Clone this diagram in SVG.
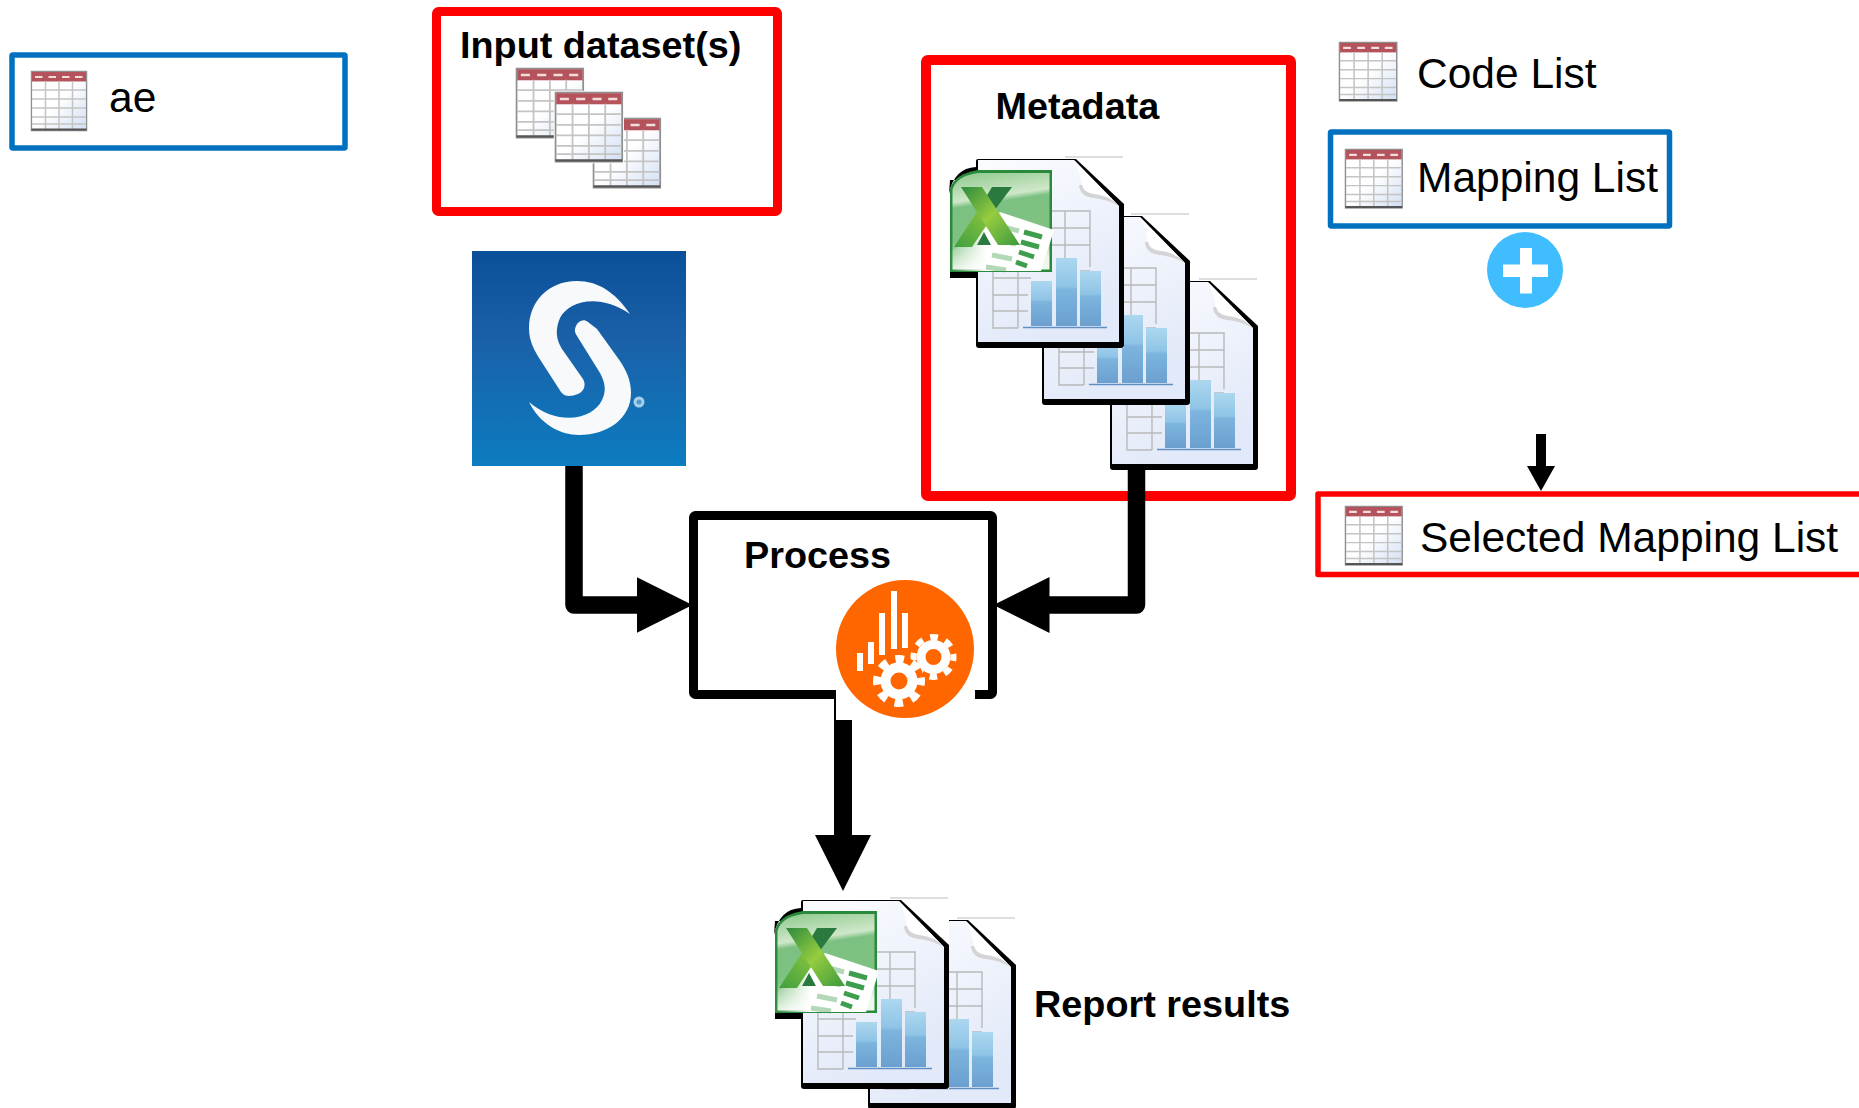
<svg xmlns="http://www.w3.org/2000/svg" width="1859" height="1108" viewBox="0 0 1859 1108">
<style>
text{font-family:"Liberation Sans",Arial,sans-serif;fill:#000}
.b{font-weight:bold;font-size:37.8px}
.r{font-size:42.5px}
.red{fill:#fff;stroke:#f00;stroke-linejoin:round}
.blue{fill:#fff;stroke:#0070c0;stroke-width:5.5;stroke-linejoin:round}
.conn{fill:none;stroke:#000;stroke-linejoin:round}
.grid{fill:none;stroke:#b9b9b9;stroke-width:1.4}
.bar{fill:url(#barG)}
.w{fill:#fff}
</style>
<defs>
<filter id="soft" x="-5%" y="-5%" width="110%" height="110%"><feGaussianBlur stdDeviation="0.55"/></filter>
<linearGradient id="docG" x1="0" y1="0" x2="0.4" y2="1"><stop offset="0" stop-color="#fbfcff"/><stop offset="1" stop-color="#e2e9f8"/></linearGradient>
<linearGradient id="barG" x1="0" y1="0" x2="0" y2="1"><stop offset="0" stop-color="#acd7ef"/><stop offset="0.42" stop-color="#8fc4e6"/><stop offset="0.46" stop-color="#7db5de"/><stop offset="1" stop-color="#6b9fcf"/></linearGradient>
<linearGradient id="xlG" x1="0" y1="0" x2="0.15" y2="1"><stop offset="0" stop-color="#8cc98c"/><stop offset="0.3" stop-color="#cfe7c9"/><stop offset="0.36" stop-color="#7cc182"/><stop offset="0.7" stop-color="#7fc181"/><stop offset="1" stop-color="#eef7ec"/></linearGradient>
<linearGradient id="xA" x1="0" y1="0" x2="1" y2="1"><stop offset="0" stop-color="#2b8a3e"/><stop offset="0.5" stop-color="#96cc3f"/><stop offset="1" stop-color="#3c9a3e"/></linearGradient>
<linearGradient id="xB" x1="1" y1="0" x2="0" y2="1"><stop offset="0" stop-color="#8cc63f"/><stop offset="1" stop-color="#3f9f3f"/></linearGradient>
<linearGradient id="fade" x1="0" y1="0" x2="1" y2="0"><stop offset="0" stop-color="#fff" stop-opacity="0"/><stop offset="0.35" stop-color="#fff"/></linearGradient>
<linearGradient id="sasG" x1="0" y1="0" x2="0" y2="1"><stop offset="0" stop-color="#0a5099"/><stop offset="0.4" stop-color="#1a60a8"/><stop offset="1" stop-color="#0c7cc0"/></linearGradient>
<linearGradient id="tabG" x1="0" y1="0" x2="1" y2="1"><stop offset="0.5" stop-color="#fff"/><stop offset="1" stop-color="#d3e0f4"/></linearGradient>
<marker id="headL" markerUnits="userSpaceOnUse" markerWidth="58" markerHeight="56" viewBox="0 0 58 56" refX="1" refY="28" orient="auto"><path d="M0 0L56 28L0 56Z"/></marker>
<marker id="headS" markerUnits="userSpaceOnUse" markerWidth="26" markerHeight="28" viewBox="0 0 26 28" refX="1" refY="14" orient="auto"><path d="M0 0L25 14L0 28Z"/></marker>
<g id="table"><rect x="-1" y="-1" width="58" height="62" fill="#fff"/><g filter="url(#soft)">
<rect x="0.500" y="0.500" width="55" height="59" fill="#fff" stroke="#8f8f8f" stroke-width="1.500"/>
<rect x="1.500" y="1.500" width="53" height="56.500" fill="url(#tabG)"/>
<rect x="1" y="1" width="54" height="9.500" fill="#b4535b"/>
<g stroke="#f3dcdc" stroke-width="2.200"><path d="M4 6H11.500M17.500 6H25M31 6H38.500M44 6H51.500"/></g>
<g stroke="#c4c4c4" stroke-width="1.500" fill="none"><path d="M14.500 10V58M28 10V58M41.500 10V58M1 19H55M1 28H55M1 37H55M1 46H55M1 53H55"/></g>
<path d="M0.500 58.500H55.500" stroke="#555" stroke-width="2"/></g>
</g>
<g id="doc">
<rect x="0" y="0" width="148" height="189" fill="#fff"/>
<path d="M89 -2H147" stroke="#bdbdbd" stroke-width="1"/>
<path d="M2 0H100L148 45V186Q148 189 145 189H3Q0 189 0 186V2Q0 0 2 0Z" fill="#000"/>
<path d="M2 1H98L143 47V183H2Z" fill="url(#docG)"/>
<path d="M98 1Q104 12 106 26Q108 34 118 35Q132 36 143 47Z" fill="#fff"/>
<path d="M106 26Q108 34 118 35Q132 36 143 47Q130 40 118 39Q104 38 103 26Z" fill="#d4d4d4"/>
<path class="grid" d="M17 52H114V108M17 52V169H42M42 52V169M89 52V125M17 69H114M17 86H114M17 103H75M17 119H55M17 136H52M17 152H52M89 125H101M104 112H114"/>
<rect class="bar" x="55" y="122" width="21" height="45"/>
<rect class="bar" x="80" y="99" width="21" height="68"/>
<rect class="bar" x="104" y="112" width="21" height="55"/>
<path d="M47 168.500H131" stroke="#5f8fc4" stroke-width="1.600"/>
</g>
<g id="xl">
<path d="M0 100H28V108H0Z" fill="#000"/>
<path d="M-1 24Q4 -2 26 -3V10H0Z" fill="#000"/>
<path d="M0 19Q4 4 28 0H102V102H0Z" fill="#2a8a3c"/>
<path d="M2.500 20Q6 6 28 3H99.500V99.500H2.500Z" fill="url(#xlG)"/>
<path d="M50 42L104 60L91 101H0V82L30 62Z" fill="url(#fade)"/>
<g stroke="#3f9e4e" fill="none" stroke-width="5"><path d="M74 62L92 67M71 72L89 77M69 82L84 87M66 92L77 96"/><path d="M54 57L69 61M49 70L66 74M42 85L62 89M36 97L56 100" opacity="0.4"/></g>
<path d="M62 17H42L30 37L38 49Z" fill="#2a7a3f"/>
<path d="M27 42L4 77H22L40 50Z" fill="url(#xB)"/>
<path d="M27 75L34 62L41 75Z" fill="#2a7a3f"/>
<path d="M11 17H32L70 75H48Z" fill="url(#xA)"/>
</g>
</defs>

<g id="ae"><rect class="blue" x="12" y="55" width="333" height="93" rx="1"/><use href="#table" x="31" y="71"/><text class="r" x="109" y="112">ae</text></g>

<g id="input-datasets"><rect class="red" x="436.500" y="11.500" width="341" height="200" stroke-width="9" rx="2"/>
<text class="b" x="460" y="58">Input dataset(s)</text>
<use href="#table" transform="translate(516 68) scale(1.21 1.17)"/>
<use href="#table" transform="translate(593 118) scale(1.21 1.17)"/>
<use href="#table" transform="translate(555 92) scale(1.21 1.17)"/></g>

<g id="sas"><rect x="472" y="251" width="214" height="215" fill="url(#sasG)"/>
<path fill="#f7f9fb" d="M630 314C615 292 598 281 577 281C548 281 529 302 529 328C529 341 534 350 541 361L561 392C566 398 572 396 578 394C585 391 586 384 583 379L562 349C556 339 555 330 560 318C568 302 598 292 630 314Z"/>
<path fill="#f7f9fb" d="M588 322C583 318 578 322 576 326C574 330 575 333 577 336L600 373C606 384 606 392 602 400C594 418 560 428 529 402C540 424 560 435 579 435C608 435 631 418 631 393C631 380 626 370 620 361L597 329Z"/>
<circle cx="639" cy="402" r="5.500" fill="#a8cfe8"/><circle cx="639" cy="402" r="2.500" fill="#4d9bd0"/></g>

<g id="metadata"><rect class="red" x="926" y="60" width="365" height="436" stroke-width="10" rx="2"/>
<text class="b" x="995.500" y="119">Metadata</text></g>

<g id="code-list"><use href="#table" transform="translate(1339 42) scale(1.04 0.99)"/><text class="r" x="1417" y="87.500">Code List</text></g>

<g id="mapping-list"><rect class="blue" x="1330.500" y="132" width="339" height="94" rx="1"/><use href="#table" transform="translate(1345 149) scale(1.03 0.99)"/><text class="r" x="1417" y="191.500">Mapping List</text></g>

<g id="plus"><circle cx="1525" cy="270" r="38" fill="#40bdff"/><path class="w" d="M1520 248H1532V264.500H1548V277H1532V293.500H1520V277H1503V264.500H1520Z"/></g>

<g id="selected-mapping-list"><path class="red" stroke-width="5.500" d="M1870 494H1318V574.500H1870"/><use href="#table" transform="translate(1345 506) scale(1.03 0.99)"/><text class="r" x="1420" y="551.500">Selected Mapping List</text></g>

<g id="process"><rect x="693.500" y="515.500" width="299" height="179" fill="#fff" stroke="#000" stroke-width="9" rx="2"/><text class="b" x="744" y="568">Process</text></g>

<g id="connectors">
<path class="conn" stroke-width="17.500" d="M574 466V605H637.500" marker-end="url(#headL)"/>
<path class="conn" stroke-width="17.500" d="M1136.500 468V605H1048.500" marker-end="url(#headL)"/>
<path class="conn" stroke-width="18" d="M843 694V836" marker-end="url(#headL)"/>
<path class="conn" stroke-width="10" d="M1541 434V467" marker-end="url(#headS)"/>
</g>

<g id="metadata-docs">
<use href="#doc" x="1110" y="281"/>
<use href="#doc" x="1042" y="216"/>
<use href="#doc" x="976" y="159"/>
<use href="#xl" x="950" y="170"/>
</g>

<g id="process-icon"><rect class="w" x="836" y="575" width="139" height="145"/>
<circle cx="905" cy="649" r="69" fill="#ff6600"/>
<path class="w" d="M857 653H863V671H857ZM868 642H874V664H868ZM879 613H885V655H879ZM891 591H897V649H891ZM902 613H908V648H902Z"/>
<g fill="none" stroke="#fff"><circle cx="933.500" cy="657" r="12.500" stroke-width="9"/><circle cx="933.500" cy="657" r="20" stroke-width="6" stroke-dasharray="7.850 7.850" stroke-dashoffset="3.930"/></g>
<circle cx="899" cy="681" r="25" fill="#ff6600"/>
<g fill="none" stroke="#fff"><circle cx="899" cy="681" r="13.500" stroke-width="10"/><circle cx="899" cy="681" r="22" stroke-width="8" stroke-dasharray="8.640 8.640" stroke-dashoffset="4.320"/></g></g>

<g id="report-results">
<use href="#doc" x="868" y="920"/>
<use href="#doc" x="801" y="900"/>
<use href="#xl" x="775" y="911"/>
<text class="b" x="1034" y="1017">Report results</text>
</g>
</svg>
